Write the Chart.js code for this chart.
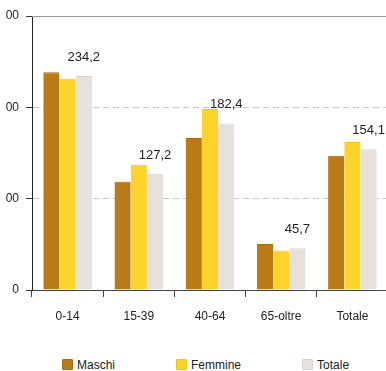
<!DOCTYPE html>
<html>
<head>
<meta charset="utf-8">
<script src="https://cdn.jsdelivr.net/npm/chart.js@4.4.0/dist/chart.umd.min.js"></script>
<style>
  html, body { margin: 0; padding: 0; background: #fff; }
  body { width: 386px; height: 371px; overflow: hidden; position: relative; font-family: "Liberation Sans", Arial, sans-serif; }
  #clip { position: absolute; left: 6px; top: 0; width: 380px; height: 330px; overflow: hidden; }
  #wrap { position: absolute; left: -19px; top: 0; width: 404px; height: 330px; }
  #legend { position: absolute; top: 358px; left: 0; width: 386px; display: flex; gap: 61px; padding-left: 62px; font-size: 12px; color: #222; }
  .item { display: flex; align-items: center; height: 13px; }
  .box { width: 11px; height: 11px; margin-right: 4px; border-radius: 1px; box-sizing: border-box; }
</style>
</head>
<body>
<div id="clip"><div id="wrap"><canvas id="myChart"></canvas></div></div>
<div id="legend"></div>
<script>
const categories = ['0-14', '15-39', '40-64', '65-oltre', 'Totale'];
const maschi = [238.5, 118.5, 166.5, 50.5, 147.0];
const femmine = [231.3, 137.2, 198.3, 43.2, 162.0];
const totale = [234.2, 127.2, 182.4, 45.7, 154.1];
const yTicks = [0, 100, 200, 300];
const seriesNames = ['Maschi', 'Femmine', 'Totale'];

const fontFamily = '"Liberation Sans", Arial, sans-serif';
Chart.defaults.font.family = fontFamily;

const fills = ['#BA7B17', '#FFD42A', '#E7E1DB'];
const edges = ['#A86C12', '#F2C21E', '#DAD3CC'];

const ctx = document.getElementById('myChart').getContext('2d');

// values written above the "Totale" bars, decimal comma
const valueLabels = {
    id: 'valueLabels',
    afterDatasetsDraw(chart) {
        const c = chart.ctx;
        const meta = chart.getDatasetMeta(2);
        c.save();
        c.font = '13px ' + fontFamily;
        c.fillStyle = '#222';
        c.textAlign = 'center';
        c.textBaseline = 'alphabetic';
        meta.data.forEach((bar, i) => {
            c.fillText(totale[i].toFixed(1).replace('.', ','), bar.x, bar.y - 15);
        });
        c.restore();
    }
};

// solid frame line along the top of the plot
const topBorder = {
    id: 'topBorder',
    beforeDatasetsDraw(chart) {
        const { ctx: c, chartArea: a } = chart;
        c.save();
        c.strokeStyle = '#9a9a9a';
        c.lineWidth = 1;
        c.beginPath();
        c.moveTo(a.left, Math.round(a.top) + 0.5);
        c.lineTo(a.right, Math.round(a.top) + 0.5);
        c.stroke();
        c.restore();
    }
};

const seriesData = [maschi, femmine, totale];

new Chart(ctx, {
    type: 'bar',
    data: {
        labels: categories,
        datasets: seriesNames.map((name, i) => ({
            label: name,
            data: seriesData[i],
            backgroundColor: fills[i],
            borderColor: edges[i],
            borderWidth: { top: 1, left: 0, right: 0, bottom: 0 },
            categoryPercentage: 0.683,
            barPercentage: 1
        }))
    },
    options: {
        responsive: true,
        maintainAspectRatio: false,
        animation: false,
        layout: { padding: { top: 16, right: 3, left: 0, bottom: 0 } },
        plugins: {
            legend: { display: false },
            tooltip: { enabled: false }
        },
        scales: {
            x: {
                grid: { drawOnChartArea: false, tickLength: 7, tickColor: '#444', offset: true },
                border: { color: '#444', width: 1 },
                ticks: { color: '#222', font: { size: 12 }, padding: 12, maxRotation: 0, autoSkip: false },
                afterFit(scale) { scale.height = 40; }
            },
            y: {
                min: 0,
                max: 300,
                afterBuildTicks(scale) { scale.ticks = yTicks.map(v => ({ value: v })); },
                grid: {
                    color: c => (c.tick && (c.tick.value === 100 || c.tick.value === 200)) ? '#c8c8c8' : 'rgba(0,0,0,0)',
                    tickLength: 6,
                    tickColor: '#333',
                    tickBorderDash: []
                },
                border: { color: '#222', width: 1, dash: [6, 4] },
                ticks: { color: '#222', font: { size: 12 }, padding: 7 },
                afterFit(scale) { scale.width = 45; }
            }
        }
    },
    plugins: [topBorder, valueLabels]
});

// legend under the chart
const legend = document.getElementById('legend');
seriesNames.forEach((name, i) => {
    const item = document.createElement('div');
    item.className = 'item';
    item.innerHTML = '<span class="box" style="background:' + fills[i] + ';border:1px solid ' + edges[i] + '"></span>' + name;
    legend.appendChild(item);
});
</script>
</body>
</html>
